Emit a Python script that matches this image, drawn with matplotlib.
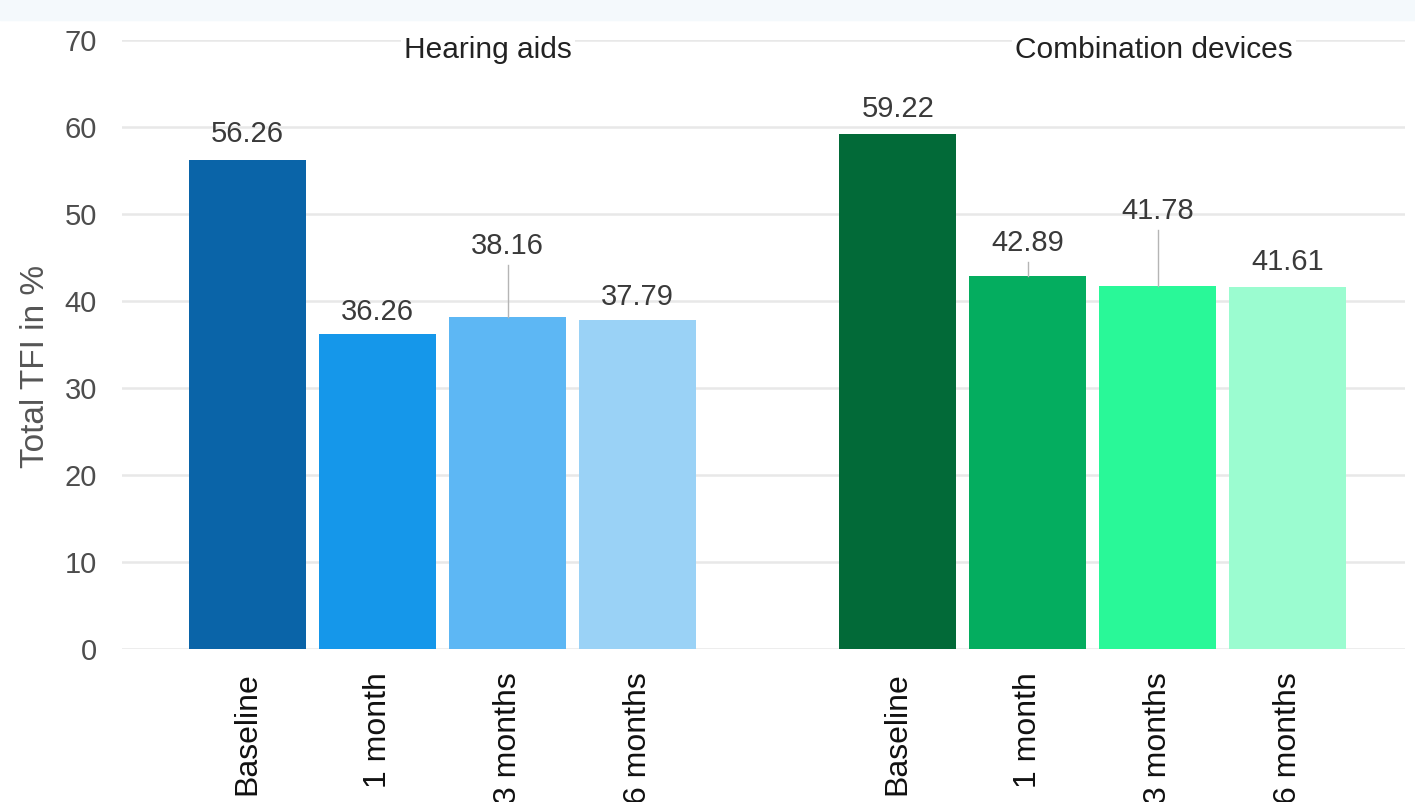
import matplotlib as mpl
import matplotlib.pyplot as plt
from matplotlib.patches import Rectangle

plt.rcParams['font.family'] = ['Liberation Sans', 'DejaVu Sans']

# data
timepoints = ['Baseline', '1 month', '3 months', '6 months']
groups = ['Hearing aids', 'Combination devices']
hearing_aids = [56.26, 36.26, 38.16, 37.79]
combination = [59.22, 42.89, 41.78, 41.61]

ha_colors = ['#0a64a8', '#1597ea', '#5db7f4', '#9ad2f6']
cd_colors = ['#026a38', '#04ad5f', '#29f898', '#9bfcd0']

# how far each value label sits above its bar (repelled labels)
ha_lift = [2.9, 2.5, 8.2, 2.7]
cd_lift = [2.9, 3.8, 8.6, 2.9]

fig = plt.figure(figsize=(14.15, 8.02), dpi=100)
fig.patches.append(Rectangle((0, 1 - 20 / 802), 1, 20 / 802, transform=fig.transFigure,
                             color='#f4f9fc', zorder=0))
ax = fig.add_axes([122 / 1415, 1 - 649 / 802, (1405 - 122) / 1415, (649 - 40) / 802])

x_ha = [0, 1, 2, 3]
x_cd = [5, 6, 7, 8]

for xs, vals, cols, lifts in [(x_ha, hearing_aids, ha_colors, ha_lift),
                              (x_cd, combination, cd_colors, cd_lift)]:
    ax.bar(xs, vals, width=0.9, color=cols, zorder=2)
    for x, v, lift in zip(xs, vals, lifts):
        ly = v + lift
        ax.text(x, ly, f'{v:.2f}', ha='center', va='center', fontsize=21, color='#3a3a3a', zorder=4)
        if lift > 3:
            ax.plot([x, x], [v, ly - 2.2], color='#b5b5b5', lw=1, zorder=3)

# facet titles
ax.text(1.85, 68.9, groups[0], ha='center', va='center', fontsize=21.5, color='#222222',
        bbox=dict(facecolor='white', edgecolor='none', pad=2), zorder=3)
ax.text(6.97, 68.9, groups[1], ha='center', va='center', fontsize=21.5, color='#222222',
        bbox=dict(facecolor='white', edgecolor='none', pad=2), zorder=3)

ax.set_xlim(-0.965, 8.9)
ax.set_ylim(0, 70)
ax.set_yticks(range(0, 71, 10))
ax.set_xticks(x_ha + x_cd)
ax.set_xticklabels(timepoints + timepoints, rotation=90, va='top', ha='center')
ax.tick_params(axis='x', length=0, pad=17, labelsize=23, labelcolor='#111111')
ax.tick_params(axis='y', length=0, pad=18, labelsize=21, labelcolor='#4d4d4d')
ax.grid(axis='y', color='#e8e8e8', lw=1.8, zorder=0)
ax.set_axisbelow(True)
for s in ax.spines.values():
    s.set_visible(False)

fig.text(36 / 1415, 1 - 366 / 802, 'Total TFI in %', rotation=90, ha='center', va='center',
         fontsize=24, color='#555555')

fig.savefig('out.png', dpi=100)
